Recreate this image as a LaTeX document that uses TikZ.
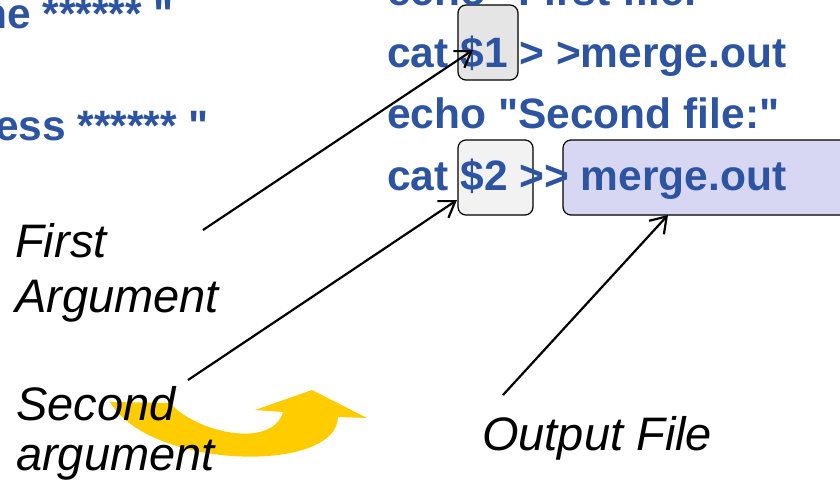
\documentclass[tikz,border=0pt]{standalone}
\usepackage{fontspec}
\setmainfont{Liberation Sans}[Ligatures=TeXOff]
\usetikzlibrary{arrows.meta}
\definecolor{codeblue}{RGB}{45,84,162}
\definecolor{lavender}{RGB}{215,215,243}
\definecolor{argyellow}{RGB}{255,204,0}
\tikzset{
  codeline/.style={anchor=base west, inner sep=0pt, text=codeblue, font=\fontsize{42.5}{50}\selectfont\bfseries},
  lbl/.style={anchor=base west, inner sep=0pt, align=left, text=black},
  hbox/.style={draw=black, line width=1.2pt, rounded corners=8pt, inner sep=0pt},
  arr/.style={line width=2.2pt, -{Straight Barb[length=15pt,width=20pt]}},
}
\begin{document}
\begin{tikzpicture}[x=1pt,y=-1pt]
\useasboundingbox (0,0) rectangle (840,485);
\clip (0,0) rectangle (840,485);
% highlight boxes
\node[hbox, fill=black!10, minimum width=60pt, minimum height=75pt] (b1) at (488,42.5) {};
\node[hbox, fill=black!5, minimum width=75pt, minimum height=75pt] (b2) at (495.5,177.5) {};
\node[hbox, fill=lavender, minimum width=297pt, minimum height=75pt] (b3) at (711.5,177.5) {};
% yellow curved arrow
\fill[argyellow] (110,402) -- (170,403) .. controls (195,432) and (272,450) .. (283,412)
  -- (255,410) -- (312,390) -- (367,418) -- (338,417)
  .. controls (337,474) and (150,470) .. (110,402) -- cycle;
% code text
\node[codeline] (l0a) at (-19,28) {ne ****** "};
\node[codeline] (l0b) at (-5,140) {ess ****** "};
\node[codeline] (c1) at (387,5) {echo "First file:"};
\node[codeline] (c2) at (387,67) {cat \$1 > >merge.out};
\node[codeline] (c3) at (387,128.5) {echo "Second file:"};
\node[codeline] (c4) at (387,190) {cat \$2 >> merge.out};
% labels (base = last line)
\node[lbl, font=\fontsize{47}{55}\selectfont\itshape] (first) at (15,312) {First\\Argument};
\node[lbl, font=\fontsize{47}{50}\selectfont\itshape] (second) at (16,470) {Second\\argument};
\node[lbl, font=\fontsize{47}{55}\selectfont\itshape] (out) at (482,450) {Output File};
% connector ends
\coordinate (a1s) at (203,230);
\coordinate (a1e) at (473,50);
\coordinate (a2s) at (188,380);
\coordinate (a2e) at (457,200);
\coordinate (a3s) at (503,395);
\coordinate (a3e) at (668,215);
\draw[arr] (a1s) -- (a1e);
\draw[arr] (a2s) -- (a2e);
\draw[arr] (a3s) -- (a3e);
\end{tikzpicture}
\end{document}
